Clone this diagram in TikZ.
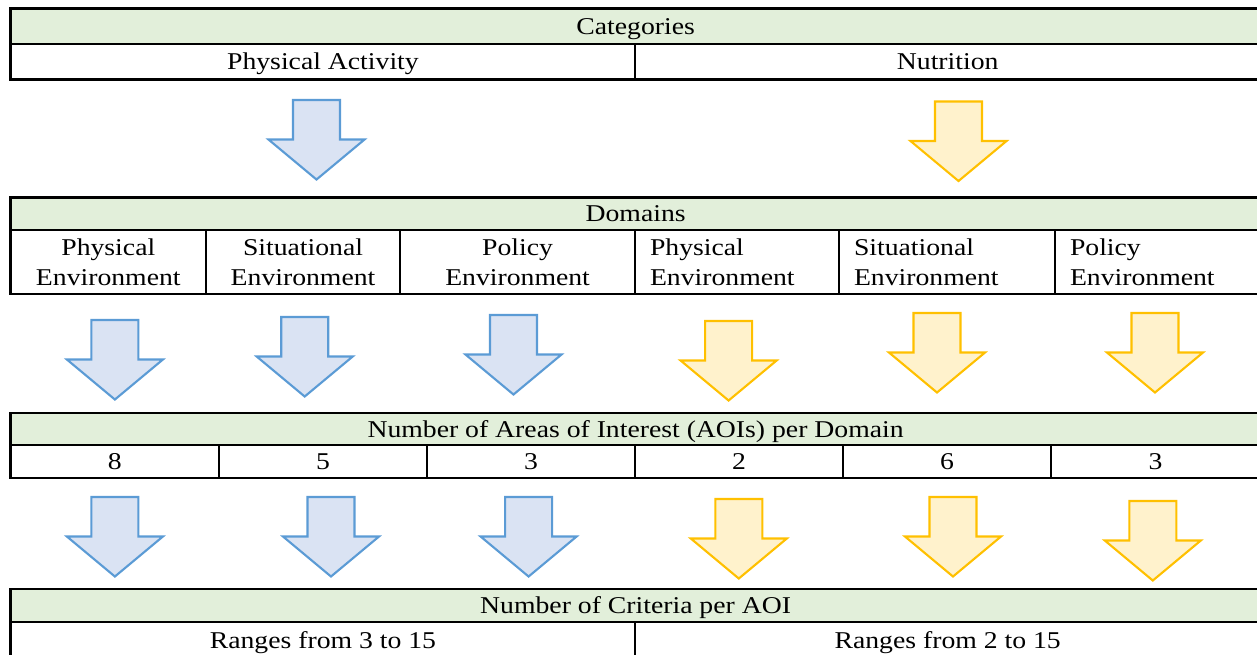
\documentclass[tikz,border=0pt]{standalone}
\usepackage{fontspec}
\setmainfont{Liberation Serif}[FakeStretch=1.15]
\usepackage{tikz}

\definecolor{hdrGreen}{HTML}{E2EFDA}
\definecolor{paBlue}{HTML}{5B9BD5}
\definecolor{paFill}{HTML}{DAE3F3}
\definecolor{nuGold}{HTML}{FFC000}
\definecolor{nuFill}{HTML}{FFF2CC}

\tikzset{
	cell/.style={draw, rectangle, line width=0.6pt, inner sep=0pt, outer sep=0pt,
		anchor=north west, text height=4.6pt, text depth=0pt},
	hdr/.style={cell, fill=hdrGreen},
	twoline/.style={draw, rectangle, line width=0.6pt, inner sep=0pt, outer sep=0pt,
		anchor=north west, align=center, minimum height=0.64cm},
	leftline/.style={twoline, align=left, inner xsep=0.15cm},
	pics/downarrow/.style={code={
		\path[pic actions] (-23.5,0) -- (23.5,0) -- (23.5,39.5) -- (48,39.5)
			-- (0,79.5) -- (-48,39.5) -- (-23.5,39.5) -- cycle;
	}},
	pa arrow/.style={draw=paBlue, fill=paFill, line width=0.6pt},
	nu arrow/.style={draw=nuGold, fill=nuFill, line width=0.6pt},
}

\begin{document}
\begin{tikzpicture}[x=0.01cm, y=-0.01cm, font=\fontsize{6.85}{8.5}\selectfont]
	\useasboundingbox (0,0) rectangle (1257,654);

	% categories
	\node[hdr, minimum width=12.495cm, minimum height=0.355cm] (categories) at (10.5,8.5)
		{Categories};
	\node[cell, minimum width=6.245cm, minimum height=0.355cm] (physAct) at (10.5,44)
		{Physical Activity};
	\node[cell, minimum width=6.25cm, minimum height=0.355cm] (nutrition) at (635,44)
		{Nutrition};

	\pic[pa arrow] at (316.5,100) {downarrow};
	\pic[nu arrow] at (958.5,101.5) {downarrow};

	% domains
	\node[hdr, minimum width=12.495cm, minimum height=0.325cm] (domains) at (10.5,197.5)
		{Domains};
	\node[twoline, minimum width=1.955cm] (paPhysEnv) at (10.5,230)
		{Physical\\Environment};
	\node[twoline, minimum width=1.94cm] (paSitEnv) at (206,230)
		{Situational\\Environment};
	\node[twoline, minimum width=2.35cm] (paPolEnv) at (400,230)
		{Policy\\Environment};
	\node[leftline, text width=1.74cm] (nuPhysEnv) at (635,230)
		{Physical\\Environment};
	\node[leftline, text width=1.86cm] (nuSitEnv) at (839,230)
		{Situational\\Environment};
	\node[leftline, text width=1.75cm] (nuPolEnv) at (1055,230)
		{Policy\\Environment};

	\pic[pa arrow] at (114.9,320) {downarrow};
	\pic[pa arrow] at (304.7,317) {downarrow};
	\pic[pa arrow] at (513.5,315) {downarrow};
	\pic[nu arrow] at (728.6,321) {downarrow};
	\pic[nu arrow] at (937,313) {downarrow};
	\pic[nu arrow] at (1155,313) {downarrow};

	% areas of interest
	\node[hdr, minimum width=12.495cm, minimum height=0.32cm] (aois) at (10.5,413)
		{Number of Areas of Interest (AOIs) per Domain};
	\node[cell, minimum width=2.085cm, minimum height=0.33cm] (paPhysAoi) at (10.5,445) {8};
	\node[cell, minimum width=2.08cm, minimum height=0.33cm] (paSitAoi) at (219,445) {5};
	\node[cell, minimum width=2.08cm, minimum height=0.33cm] (paPolAoi) at (427,445) {3};
	\node[cell, minimum width=2.08cm, minimum height=0.33cm] (nuPhysAoi) at (635,445) {2};
	\node[cell, minimum width=2.08cm, minimum height=0.33cm] (nuSitAoi) at (843,445) {6};
	\node[cell, minimum width=2.09cm, minimum height=0.33cm] (nuPolAoi) at (1051,445) {3};

	\pic[pa arrow] at (114.9,497) {downarrow};
	\pic[pa arrow] at (331,497) {downarrow};
	\pic[pa arrow] at (528.6,497) {downarrow};
	\pic[nu arrow] at (738.8,499) {downarrow};
	\pic[nu arrow] at (953,497) {downarrow};
	\pic[nu arrow] at (1152.8,501) {downarrow};

	% criteria
	\node[hdr, minimum width=12.495cm, minimum height=0.33cm] (criteria) at (10.5,589)
		{Number of Criteria per AOI};
	\node[cell, minimum width=6.245cm, minimum height=0.36cm] (paRange) at (10.5,622)
		{Ranges from 3 to 15};
	\node[cell, minimum width=6.25cm, minimum height=0.36cm] (nuRange) at (635,622)
		{Ranges from 2 to 15};
\end{tikzpicture}
\end{document}
